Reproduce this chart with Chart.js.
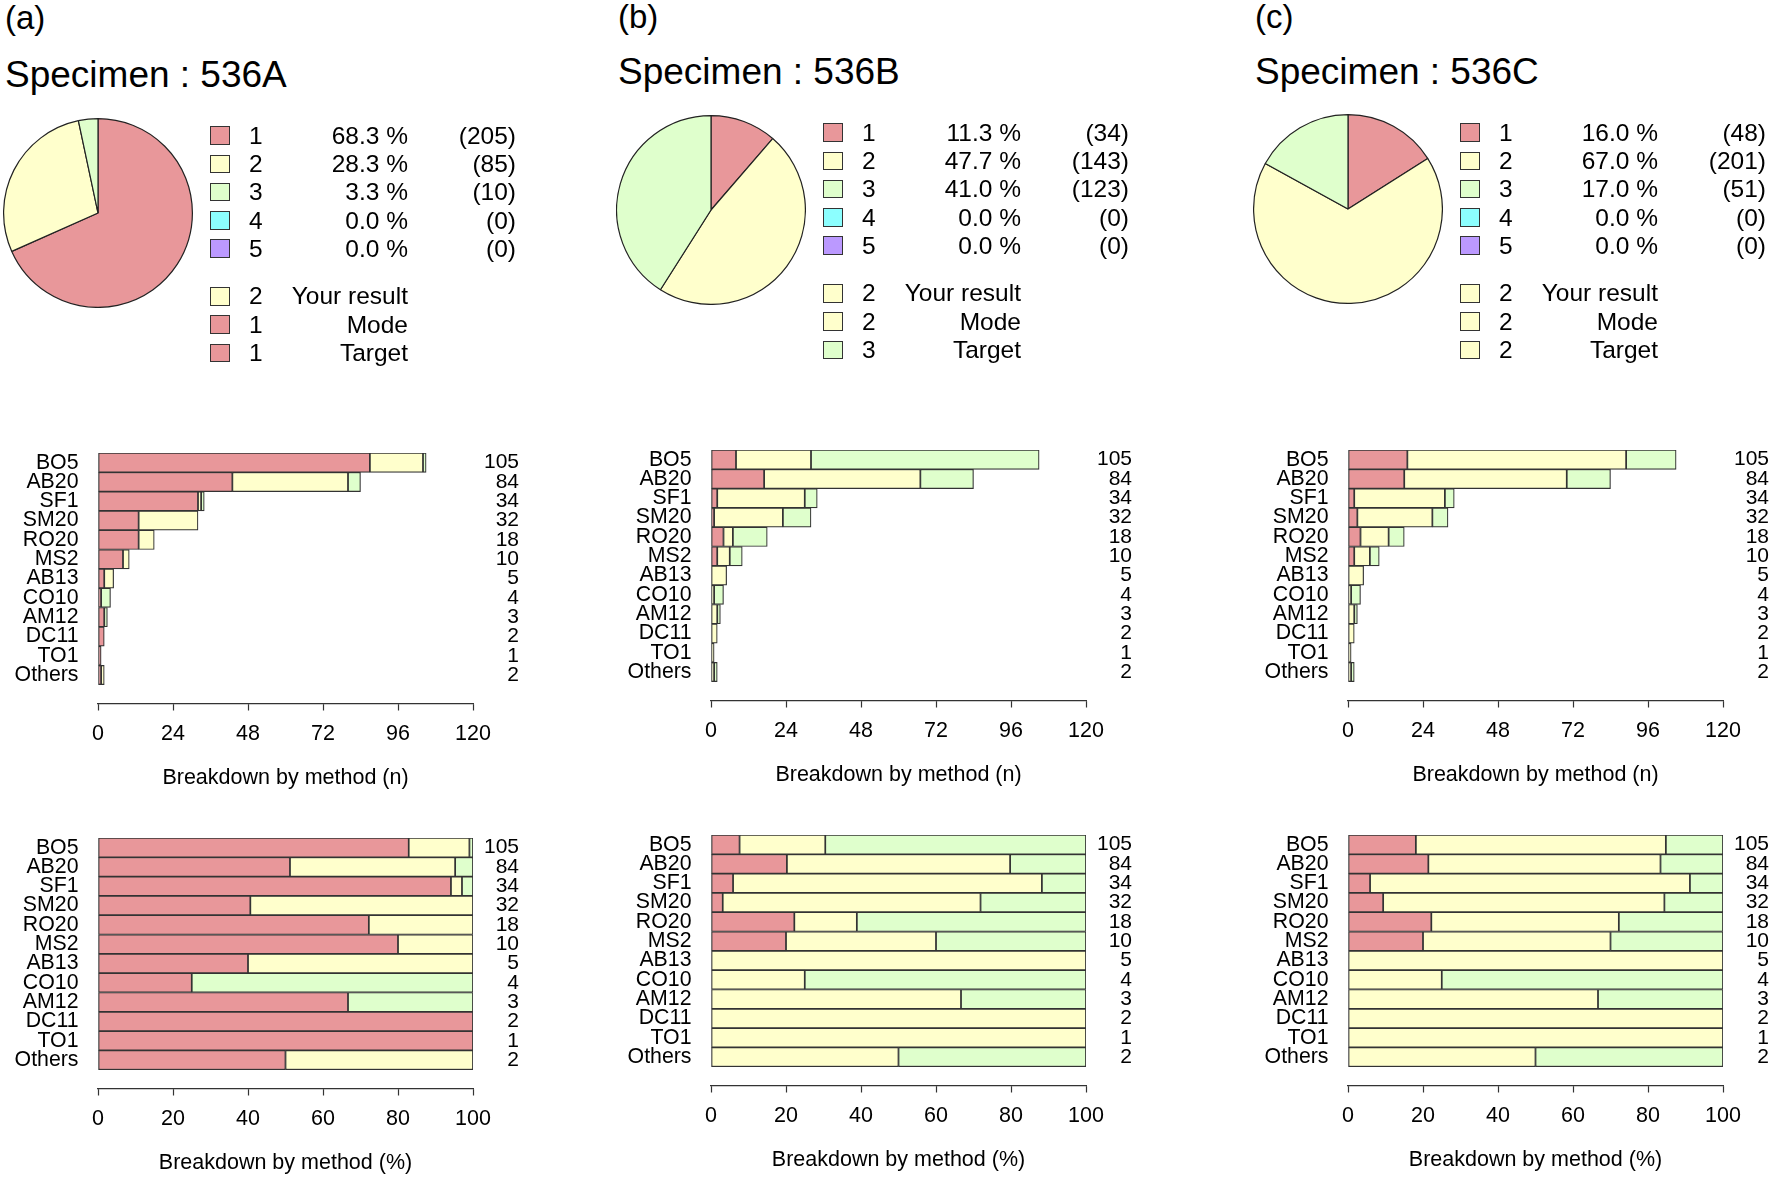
<!DOCTYPE html>
<html>
<head>
<meta charset="utf-8">
<title>Specimen 536 - breakdown by method</title>
<script src="https://cdn.jsdelivr.net/npm/chart.js@4.4.1/dist/chart.umd.min.js"></script>
<style>
  body { margin: 0; background: #fff; }
  #fig { position: relative; width: 1772px; height: 1178px; overflow: hidden;
         font-family: 'Liberation Sans', Arial, Helvetica, sans-serif; color: #000; }
  #fig canvas { position: absolute; }
  .t { position: absolute; line-height: 1; white-space: nowrap; }
  .sq { position: absolute; box-sizing: border-box; border: 1.2px solid #333; }
</style>
</head>
<body>
<div id="fig"></div>
<script>
const FONT = "'Liberation Sans', Arial, Helvetica, sans-serif";

// methods and number of labs per method
const labs = ['BO5', 'AB20', 'SF1', 'SM20', 'RO20', 'MS2', 'AB13', 'CO10', 'AM12', 'DC11', 'TO1', 'Others'];
const totals = [105, 84, 34, 32, 18, 10, 5, 4, 3, 2, 1, 2];

const catNames = ['1', '2', '3', '4', '5'];
const catColors = ['#E8979A', '#FFFFCC', '#DFFFCC', '#8CFFFF', '#BB99FF'];

// counts per method for answer 1, 2, 3
const a1 = [87, 43, 32, 13, 13, 8, 2, 1, 2, 2, 1, 1];
const a2 = [17, 37, 1, 19, 5, 2, 3, 0, 0, 0, 0, 1];
const a3 = [1, 4, 1, 0, 0, 0, 0, 3, 1, 0, 0, 0];

const b1 = [8, 17, 2, 1, 4, 2, 0, 0, 0, 0, 0, 0];
const b2 = [24, 50, 28, 22, 3, 4, 5, 1, 2, 2, 1, 1];
const b3 = [73, 17, 4, 9, 11, 4, 0, 3, 1, 0, 0, 1];

const c1 = [19, 18, 2, 3, 4, 2, 0, 0, 0, 0, 0, 0];
const c2 = [70, 52, 29, 24, 9, 5, 5, 1, 2, 2, 1, 1];
const c3 = [16, 14, 3, 5, 5, 3, 0, 3, 1, 0, 0, 1];

// pie totals (answers 1..5)
const pieA = [205, 85, 10, 0, 0];
const pieB = [34, 143, 123, 0, 0];
const pieC = [48, 201, 51, 0, 0];

const resLabels = ['Your result', 'Mode', 'Target'];
const resA = [2, 1, 1];
const resB = [2, 2, 3];
const resC = [2, 2, 2];

const countTicks = [0, 24, 48, 72, 96, 120];
const pctTicks = [0, 20, 40, 60, 80, 100];

Chart.defaults.font.family = FONT;
Chart.defaults.color = '#000';

const panels = [
  { tag: '(a)', title: 'Specimen : 536A', x0: 98, dy: 3, pieY: 213, pie: pieA, res: resA, cats: [a1, a2, a3] },
  { tag: '(b)', title: 'Specimen : 536B', x0: 711, dy: 0, pieY: 210, pie: pieB, res: resB, cats: [b1, b2, b3] },
  { tag: '(c)', title: 'Specimen : 536C', x0: 1348, dy: 0, pieY: 209, pie: pieC, res: resC, cats: [c1, c2, c3] }
];

const fig = document.getElementById('fig');

function text(str, x, top, size, align) {
  const d = document.createElement('div');
  d.className = 't';
  d.textContent = str;
  d.style.fontSize = size + 'px';
  if (align === 'right') {
    d.style.left = (x - 300) + 'px';
    d.style.width = '300px';
    d.style.textAlign = 'right';
  } else {
    d.style.left = x + 'px';
  }
  d.style.top = top + 'px';
  fig.appendChild(d);
}

function square(x, yc, color) {
  const d = document.createElement('div');
  d.className = 'sq';
  d.style.left = x + 'px';
  d.style.top = (yc - 9.25) + 'px';
  d.style.width = '19.5px';
  d.style.height = '18.5px';
  d.style.background = color;
  fig.appendChild(d);
}

function pieChart(p) {
  const cv = document.createElement('canvas');
  cv.width = 190;
  cv.height = 190;
  cv.style.left = (p.x0 - 95) + 'px';
  cv.style.top = (p.pieY - 95) + 'px';
  fig.appendChild(cv);
  new Chart(cv, {
    type: 'pie',
    data: {
      labels: catNames,
      datasets: [{ data: p.pie, backgroundColor: catColors, borderColor: '#222', borderWidth: 1.2 }]
    },
    options: {
      responsive: false,
      animation: false,
      layout: { padding: 0 },
      plugins: { legend: { display: false }, tooltip: { enabled: false } }
    }
  });
}

const LEFT_W = 110;   // method names
const RIGHT_W = 46;   // lab counts
const PLOT_W = 375;

function barChart(p, top, vals, ticks, titleText) {
  const cv = document.createElement('canvas');
  cv.width = LEFT_W + PLOT_W + RIGHT_W;
  cv.height = 344;
  cv.style.left = (p.x0 - LEFT_W) + 'px';
  cv.style.top = top + 'px';
  fig.appendChild(cv);
  // one row per method, plus one empty row between the bars and the axis
  const rowTicks = s => {
    s.ticks = labs.map((_, i) => ({ value: i }));
    s.min = -0.5;
    s.max = labs.length + 0.5;
  };
  new Chart(cv, {
    type: 'bar',
    data: {
      labels: labs.map((_, i) => i),
      datasets: vals.map((v, k) => ({
        label: catNames[k],
        data: v,
        backgroundColor: catColors[k],
        borderColor: '#333',
        borderWidth: 1.2,
        borderSkipped: false,
        barPercentage: 1,
        categoryPercentage: 1
      }))
    },
    options: {
      indexAxis: 'y',
      responsive: false,
      animation: false,
      layout: { padding: { top: 6, left: 0, right: 0, bottom: 0 } },
      plugins: { legend: { display: false }, tooltip: { enabled: false } },
      scales: {
        x: {
          type: 'linear', stacked: true,
          min: ticks[0], max: ticks[ticks.length - 1],
          afterBuildTicks: s => {
            s.ticks = ticks.map(v => ({ value: v }));
            s.min = ticks[0];
            s.max = ticks[ticks.length - 1];
          },
          afterFit: s => { s.height = 87; s.paddingLeft = 0; s.paddingRight = 0; },
          grid: { drawOnChartArea: false, drawTicks: true, tickLength: 6.5, tickWidth: 1.2, tickColor: '#333' },
          border: { display: true, color: '#333', width: 1.2 },
          ticks: { padding: 10.2, font: { size: 21.5 }, color: '#000', maxRotation: 0, autoSkip: false },
          title: { display: true, text: titleText, font: { size: 21.5 }, color: '#000', padding: 0 }
        },
        y: {
          type: 'linear', stacked: true, reverse: true, offset: false, bounds: 'data',
          min: -0.5, max: labs.length + 0.5,
          afterBuildTicks: rowTicks,
          afterFit: s => { s.width = LEFT_W; s.paddingTop = 0; s.paddingBottom = 0; },
          grid: { display: false, drawTicks: false, offset: false },
          border: { display: false },
          ticks: { autoSkip: false, padding: 19.5, font: { size: 21.3 }, color: '#000', callback: v => labs[v] }
        },
        y2: {
          type: 'linear', position: 'right', reverse: true, offset: false, bounds: 'data',
          min: -0.5, max: labs.length + 0.5,
          afterBuildTicks: rowTicks,
          afterFit: s => { s.width = RIGHT_W; s.paddingTop = 0; s.paddingBottom = 0; },
          grid: { display: false, drawTicks: false, offset: false },
          border: { display: false },
          ticks: { autoSkip: false, padding: 8, crossAlign: 'far', font: { size: 21 }, color: '#000', callback: v => totals[v] }
        }
      }
    }
  });
}

const rowY1 = [132.5, 160.8, 189.1, 217.4, 245.7];
const rowY2 = [293.3, 321.7, 350];

panels.forEach(p => {
  const xl = p.x0 - 93;
  text(p.tag, xl, 0 + p.dy / 3, 33);
  text(p.title, xl, 52.8 + p.dy, 37);

  pieChart(p);

  const sum = p.pie.reduce((s, v) => s + v, 0);
  p.pie.forEach((n, i) => {
    const yc = rowY1[i] + p.dy;
    square(p.x0 + 112, yc, catColors[i]);
    text(catNames[i], p.x0 + 151, yc - 11.9, 24.5);
    text((n / sum * 100).toFixed(1) + ' %', p.x0 + 310, yc - 11.9, 24.5, 'right');
    text('(' + n + ')', p.x0 + 418, yc - 11.9, 24.5, 'right');
  });
  p.res.forEach((v, i) => {
    const yc = rowY2[i] + p.dy;
    square(p.x0 + 112, yc, catColors[v - 1]);
    text(String(v), p.x0 + 151, yc - 11.9, 24.5);
    text(resLabels[i], p.x0 + 310, yc - 11.9, 24.5, 'right');
  });

  const pct = p.cats.map(v => v.map((n, i) => n / totals[i] * 100));
  barChart(p, 444 + p.dy, p.cats, countTicks, 'Breakdown by method (n)');
  barChart(p, 829 + p.dy, pct, pctTicks, 'Breakdown by method (%)');
});
</script>
</body>
</html>
